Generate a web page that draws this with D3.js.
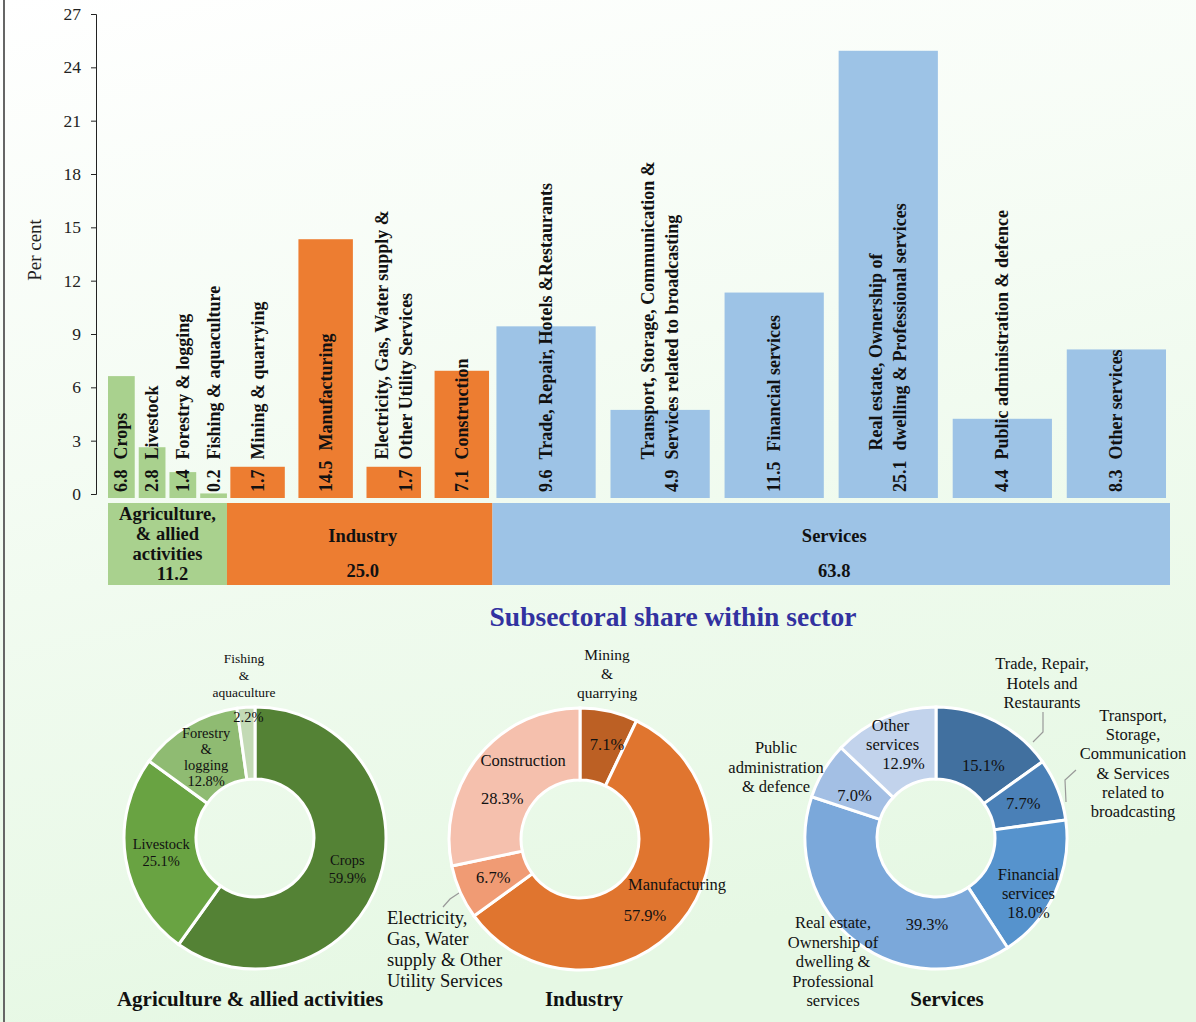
<!DOCTYPE html>
<html>
<head>
<meta charset="utf-8">
<script src="https://cdn.jsdelivr.net/npm/d3@7"></script>
<style>
  html, body { margin: 0; padding: 0; background: #fff; }
  svg { display: block; font-family: "Liberation Serif", "Times New Roman", serif; }
</style>
</head>
<body>
<svg id="chart" width="1196" height="1022"></svg>
<script>
// sector totals (share of GVA, per cent)
const sectorNames = ["Agriculture", "Industry", "Services"];
const sectorLabels = [["Agriculture,", "& allied", "activities"], ["Industry"], ["Services"]];
const sectorShares = [11.2, 25.0, 63.8];
const sectorColors = ["#a9d18e", "#ed7d31", "#9dc3e6"];

// subsectors (bars)
const subSectors = ["Crops", "Livestock", "Forestry & logging", "Fishing & aquaculture",
  "Mining & quarrying", "Manufacturing", "Electricity", "Construction",
  "Trade", "Transport", "Financial services", "Real estate", "Public administration", "Other services"];
const subSectorOf = [0, 0, 0, 0, 1, 1, 1, 1, 2, 2, 2, 2, 2, 2];
const subValues = [6.8, 2.8, 1.4, 0.2, 1.7, 14.5, 1.7, 7.1, 9.6, 4.9, 11.5, 25.1, 4.4, 8.3];
const subLabels = [
  ["Crops"], ["Livestock"], ["Forestry & logging"], ["Fishing & aquaculture"],
  ["Mining & quarrying"], ["Manufacturing"],
  ["Electricity, Gas, Water supply &", "Other Utility Services"], ["Construction"],
  ["Trade, Repair, Hotels &Restaurants"],
  ["Transport, Storage, Communication &", "Services related to broadcasting"],
  ["Financial services"],
  ["Real estate, Ownership of", "dwelling & Professional services"],
  ["Public administration & defence"], ["Other services"]
];
const yTicks = [0, 3, 6, 9, 12, 15, 18, 21, 24, 27];

// donuts: subsectoral share within sector
const agriShares = [59.9, 25.1, 12.8, 2.2];
const agriColors = ["#548235", "#69a342", "#8fbb72", "#c3dab5"];

const indShares = [7.1, 57.9, 6.7, 28.3];
const indColors = ["#bc6024", "#e0752f", "#f09b74", "#f5c0ad"];

const srvShares = [15.1, 7.7, 18.0, 39.3, 7.0, 12.9];
const srvColors = ["#41709f", "#4a80b7", "#5693cd", "#7ba8da", "#a3bfe4", "#c2d3ec"];

const svg = d3.select("#chart");
const W = 1196, H = 1022;

// background
const defs = svg.append("defs");
const grad = defs.append("linearGradient").attr("id", "bg")
  .attr("x1", 0).attr("y1", 0).attr("x2", 0.25).attr("y2", 1);
grad.append("stop").attr("offset", "0%").attr("stop-color", "#ffffff");
grad.append("stop").attr("offset", "100%").attr("stop-color", "#e6f8e4");
svg.append("rect").attr("width", W).attr("height", H).attr("fill", "url(#bg)");
svg.append("line").attr("x1", 4).attr("x2", 4).attr("y1", 0).attr("y2", H)
  .attr("stroke", "#666").attr("stroke-width", 2);

// ---------- bar chart ----------
const y = d3.scaleLinear().domain([0, 27]).range([494, 14]);
const xShare = d3.scaleLinear().domain([0, 100]).range([108, 1170]);
const cum = d3.cumsum(sectorShares);
const sectorX0 = sectorShares.map((s, i) => xShare(cum[i] - s));
const sectorX1 = sectorShares.map((s, i) => xShare(cum[i]));

const bandPad = [[0.13, 0], [0.2, 0.05], [0.13, 0.035]];
const bands = sectorNames.map((s, i) => d3.scaleBand()
  .domain(subSectors.filter((d, j) => subSectorOf[j] === i))
  .range([sectorX0[i], sectorX1[i]])
  .paddingInner(bandPad[i][0]).paddingOuter(bandPad[i][1]));

const axis = svg.append("g").attr("transform", "translate(96,0)")
  .call(d3.axisLeft(y).tickValues(yTicks).tickSize(5).tickPadding(10));
axis.select(".domain").attr("stroke", "#222");
axis.selectAll(".tick line").attr("stroke", "#222");
axis.selectAll(".tick text").attr("font-family", "Liberation Serif").attr("font-size", 17.5).attr("fill", "#222");

svg.append("text").attr("transform", "translate(41,250) rotate(-90)")
  .attr("text-anchor", "middle").attr("font-size", 19).attr("fill", "#222").text("Per cent");

const bars = subSectors.map((name, i) => ({
  name, value: subValues[i], sector: subSectorOf[i], lines: subLabels[i]
}));

svg.append("g").selectAll("rect").data(bars).join("rect")
  .attr("x", d => bands[d.sector](d.name))
  .attr("width", d => bands[d.sector].bandwidth())
  .attr("y", d => y(d.value) + 3)
  .attr("height", d => y(0) + 1 - y(d.value))
  .attr("fill", d => sectorColors[d.sector]);

// rotated in-bar labels
const lab = svg.append("g").selectAll("g").data(bars).join("g")
  .attr("transform", d => `translate(${bands[d.sector](d.name) + bands[d.sector].bandwidth() / 2},492) rotate(-90)`)
  .attr("font-weight", "bold").attr("font-size", 18).attr("fill", "#111");

lab.each(function(d) {
  const g = d3.select(this);
  const n = d.lines.length;
  const off = n === 1 ? [0] : [-12, 12];
  const v = g.append("text").attr("x", 0).attr("y", off[n - 1] + 6).text(d.value.toFixed(1));
  const vw = v.node().getComputedTextLength();
  d.lines.forEach((line, k) => {
    g.append("text").attr("x", vw + 10).attr("y", off[k] + 6).text(line);
  });
});

// sector bands
svg.append("g").selectAll("rect").data(sectorNames).join("rect")
  .attr("x", (d, i) => sectorX0[i])
  .attr("width", (d, i) => sectorX1[i] - sectorX0[i])
  .attr("y", 503).attr("height", 82)
  .attr("fill", (d, i) => sectorColors[i]);

const secLab = svg.append("g").selectAll("text").data(sectorNames).join("text")
  .attr("text-anchor", "middle").attr("font-weight", "bold").attr("font-size", 18.5).attr("fill", "#111")
  .attr("transform", (d, i) => `translate(${(sectorX0[i] + sectorX1[i]) / 2 + (i === 0 ? 0 : 3)},0)`);
secLab.each(function(d, i) {
  const t = d3.select(this);
  const lines = sectorLabels[i].concat([sectorShares[i].toFixed(1)]);
  const ys = i === 0 ? [520, 540, 560, 580] : [542, 577];
  lines.forEach((l, k) => t.append("tspan").attr("x", i === 0 && k === 3 ? 5 : 0).attr("y", ys[k]).text(l));
});

svg.append("text").attr("x", 673).attr("y", 626).attr("text-anchor", "middle")
  .attr("font-weight", "bold").attr("font-size", 27.5).attr("fill", "#3232a0")
  .text("Subsectoral share within sector");

// ---------- donuts ----------
function donut(cfg) {
  const g = svg.append("g").attr("transform", `translate(${cfg.cx},${cfg.cy})`);
  const pie = d3.pie().sort(null).value(d => d);
  const arcs = pie(cfg.values);
  const arc = d3.arc().innerRadius(59).outerRadius(131);
  const mid = d3.arc().innerRadius(95).outerRadius(95);

  g.selectAll("path").data(arcs).join("path")
    .attr("d", arc).attr("fill", (d, i) => cfg.colors[i])
    .attr("stroke", "#fff").attr("stroke-width", 3);

  arcs.forEach((a, i) => {
    const L = cfg.labels[i];
    const c = mid.centroid(a);
    const fs = L.fs || cfg.fs;
    const lh = L.lh || fs * 1.2;
    if (L.inner) {
      const t = g.append("text").attr("text-anchor", "middle").attr("font-size", fs).attr("fill", "#111");
      const lines = L.inner;
      const y0 = c[1] - (lines.length - 1) * lh / 2 + fs * 0.35 + (L.dy || 0);
      lines.forEach((l, k) => t.append("tspan").attr("x", c[0] + (L.dx || 0) + (L.ldx ? L.ldx[k] : 0))
        .attr("y", y0 + k * lh).text(l));
    }
    if (L.outer) {
      const o = L.outer;
      const t = g.append("text").attr("text-anchor", o.anchor || "middle").attr("font-size", o.fs || fs).attr("fill", "#111");
      o.lines.forEach((l, k) => t.append("tspan").attr("x", o.x).attr("y", o.y + k * (o.lh || lh)).text(l));
      if (o.leader) {
        g.append("polyline").attr("points", o.leader.map(p => p.join(",")).join(" "))
          .attr("fill", "none").attr("stroke", "#999").attr("stroke-width", 1.2);
      }
    }
  });

  svg.append("text").attr("x", cfg.cx + cfg.titleDx).attr("y", 1006)
    .attr("text-anchor", "middle").attr("font-weight", "bold").attr("font-size", 21).attr("fill", "#111")
    .text(cfg.title);
}

const pct = v => v.toFixed(1) + "%";

donut({
  cx: 255, cy: 838, values: agriShares, colors: agriColors, fs: 14.5,
  title: "Agriculture & allied activities", titleDx: -5,
  labels: [
    { inner: ["Crops", pct(agriShares[0])], dx: 2, dy: 2 },
    { inner: ["Livestock", pct(agriShares[1])], dy: -1 },
    { inner: ["Forestry", "&", "logging", pct(agriShares[2])], lh: 16 },
    { inner: [pct(agriShares[3])], dy: -26,
      outer: { lines: ["Fishing", "&", "aquaculture"], x: -11, y: -175, fs: 13.5, lh: 17 } }
  ]
});

donut({
  cx: 580, cy: 839, values: indShares, colors: indColors, fs: 16.5,
  title: "Industry", titleDx: 4,
  labels: [
    { inner: [pct(indShares[0])], dx: 6, dy: -2,
      outer: { lines: ["Mining", "&", "quarrying"], x: 27, y: -179, fs: 15.5, lh: 19 } },
    { inner: ["Manufacturing", pct(indShares[1])], lh: 31, ldx: [24, -8], dy: 0 },
    { inner: [pct(indShares[2])], dy: 0,
      outer: { lines: ["Electricity,", "Gas, Water", "supply & Other", "Utility Services"], x: -193, y: 85,
        anchor: "start", fs: 18.5, lh: 21,
        leader: [[-121, 54], [-130, 60], [-137, 68]] } },
    { inner: ["Construction", "", pct(indShares[3])], lh: 19, ldx: [17, 0, -4], dy: 0 }
  ]
});

donut({
  cx: 936, cy: 838, values: srvShares, colors: srvColors, fs: 16.5,
  title: "Services", titleDx: 11,
  labels: [
    { inner: [pct(srvShares[0])], dx: 4, dy: 12,
      outer: { lines: ["Trade, Repair,", "Hotels and", "Restaurants"], x: 106, y: -169, lh: 19.5,
        leader: [[97, -96], [107, -106], [107, -126]] } },
    { inner: [pct(srvShares[1])], dx: -1, dy: 0,
      outer: { lines: ["Transport,", "Storage,", "Communication", "& Services", "related to", "broadcasting"],
        x: 197, y: -117, lh: 19.2,
        leader: [[130, -36], [129, -58], [140, -68]] } },
    { inner: ["Financial", "services", pct(srvShares[2])], dx: 6, dy: 16, lh: 19 },
    { inner: [pct(srvShares[3])], dx: 49, dy: 11,
      outer: { lines: ["Real estate,", "Ownership of", "dwelling &", "Professional", "services"], x: -103, y: 90, lh: 19.5 } },
    { inner: [pct(srvShares[4])], dy: 6,
      outer: { lines: ["Public", "administration", "& defence"], x: -160, y: -85, lh: 19.5 } },
    { inner: ["Other", "services", pct(srvShares[5])], dx: 0, dy: -6, lh: 19, ldx: [-8, -6, 5] }
  ]
});
</script>
</body>
</html>
